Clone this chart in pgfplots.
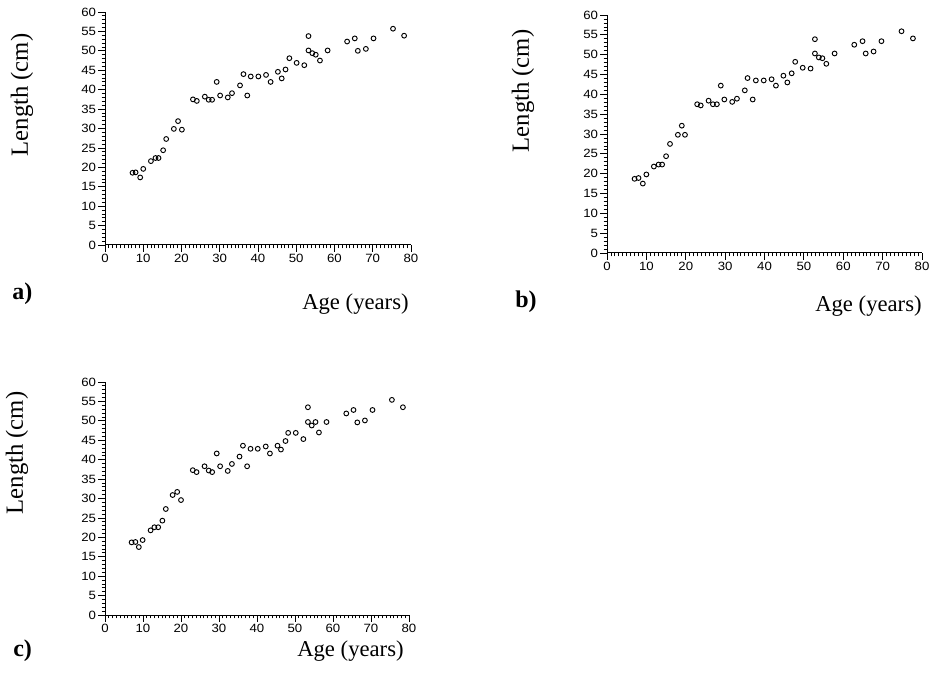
\documentclass[border=0pt]{standalone}
\usepackage{pgfplots}
\pgfplotsset{compat=1.18}
\usepackage{fontspec}
\setmainfont{Liberation Serif}
\newfontfamily\tickfont[FakeStretch=1.1]{Liberation Sans}

\pgfplotstableread{
x y
7.2 18.6
8.0 18.7
9.2 17.4
10.0 19.6
12.0 21.6
13.2 22.4
14.0 22.4
15.2 24.4
16.0 27.3
18.0 29.9
19.1 31.9
20.1 29.7
23.0 37.5
24.0 37.1
26.1 38.2
27.1 37.4
28.0 37.4
29.2 42.0
30.1 38.5
32.1 38.0
33.2 39.1
35.3 41.1
36.2 44.0
37.2 38.5
38.1 43.4
40.1 43.4
42.1 43.8
43.3 42.0
45.2 44.6
46.2 42.9
47.2 45.2
48.2 48.1
50.1 46.9
52.1 46.3
53.2 53.8
53.2 50.1
54.2 49.4
55.1 49.0
56.2 47.5
58.2 50.1
63.3 52.4
65.3 53.2
66.1 50.0
68.2 50.5
70.2 53.2
75.3 55.7
78.2 53.9
}\dataA

\pgfplotstableread{
x y
7.0 18.7
8.0 18.9
9.1 17.5
10.0 19.8
11.9 21.8
13.1 22.3
14.0 22.3
15.0 24.4
16.0 27.5
18.0 29.8
19.0 32.1
19.8 29.8
22.9 37.5
23.8 37.2
25.8 38.4
26.9 37.5
27.9 37.5
28.9 42.2
29.8 38.7
31.8 38.1
33.0 38.9
35.0 41.0
35.7 44.1
37.0 38.7
37.8 43.5
39.8 43.5
41.8 43.8
42.9 42.2
44.8 44.7
45.8 43.0
46.9 45.3
47.8 48.2
49.7 46.7
51.7 46.5
52.8 53.9
52.8 50.3
53.8 49.3
54.7 49.1
55.7 47.7
57.8 50.3
62.8 52.5
64.9 53.4
65.7 50.3
67.7 50.8
69.7 53.4
74.8 55.9
77.7 54.1
}\dataB

\pgfplotstableread{
x y
7.0 18.7
8.0 18.8
8.9 17.5
9.9 19.3
12.0 21.8
13.0 22.6
14.0 22.6
15.1 24.3
16.0 27.3
17.8 30.9
19.0 31.7
20.0 29.6
23.1 37.3
24.1 36.8
26.2 38.3
27.3 37.2
28.2 36.8
29.4 41.6
30.3 38.3
32.3 37.1
33.4 38.9
35.4 40.8
36.3 43.6
37.4 38.3
38.3 42.8
40.2 42.8
42.3 43.4
43.4 41.6
45.4 43.6
46.3 42.6
47.5 44.8
48.2 46.9
50.2 46.9
52.2 45.3
53.4 53.5
53.4 49.7
54.4 48.8
55.4 49.7
56.3 47.0
58.3 49.7
63.5 51.9
65.4 52.8
66.4 49.6
68.4 50.1
70.4 52.8
75.5 55.4
78.4 53.5
}\dataC

\pgfplotsset{
  panel/.style={
    scale only axis,
    axis lines=left,
    axis line style={-, line width=0.75pt},
    xmin=0, xmax=80, ymin=0, ymax=60,
    xtick={0,10,...,80}, ytick={0,5,...,60},
    minor x tick num=9, minor y tick num=4,
    tick align=outside,
    major tick length=5pt, minor tick length=2.5pt,
    tick style={black, line width=0.6pt},
    every tick label/.append style={font=\tickfont\fontsize{9}{10}\selectfont, inner sep=1.5pt},
    /pgf/number format/assume math mode=true,
    clip=false,
  },
  pts/.style={only marks, mark=o, mark size=1.8pt, black, mark options={line width=0.7pt}},
}

\begin{document}
\begin{tikzpicture}
\useasboundingbox (0,0) rectangle (697.5pt,506.25pt);
\fill[white] (0,0) rectangle (697.5pt,506.25pt);

% panel a
\begin{axis}[panel, at={(78.75pt,322.5pt)}, anchor=origin, width=229.5pt, height=174.75pt]
\addplot[pts] table[x=x,y=y] {\dataA};
\end{axis}
% panel b
\begin{axis}[panel, at={(455.25pt,316.5pt)}, anchor=origin, width=236.25pt, height=178.5pt]
\addplot[pts] table[x=x,y=y] {\dataB};
\end{axis}
% panel c
\begin{axis}[panel, at={(78.75pt,45pt)}, anchor=origin, width=228pt, height=174.75pt]
\addplot[pts] table[x=x,y=y] {\dataC};
\end{axis}

\tikzset{lab/.style={font=\fontsize{17}{18}\selectfont, inner sep=0pt},
         ylab/.style={font=\fontsize{18.5}{19}\selectfont, inner sep=0pt, rotate=90, anchor=center}}
% labels a
\node[ylab] at (16.5pt,435pt) {Length (cm)};
\node[lab, anchor=base west] at (226.5pt,273.75pt) {Age (years)};
\node[lab, anchor=base west, font=\bfseries\fontsize{18}{19}\selectfont] at (9pt,281.25pt) {a)};
% labels b
\node[ylab] at (392.25pt,438pt) {Length (cm)};
\node[lab, anchor=base west] at (611.25pt,272.25pt) {Age (years)};
\node[lab, anchor=base west, font=\bfseries\fontsize{18}{19}\selectfont] at (386.25pt,275.25pt) {b)};
% labels c
\node[ylab] at (12.75pt,166.5pt) {Length (cm)};
\node[lab, anchor=base west] at (222.75pt,14.25pt) {Age (years)};
\node[lab, anchor=base west, font=\bfseries\fontsize{18}{19}\selectfont] at (9.75pt,14.25pt) {c)};
\end{tikzpicture}
\end{document}
